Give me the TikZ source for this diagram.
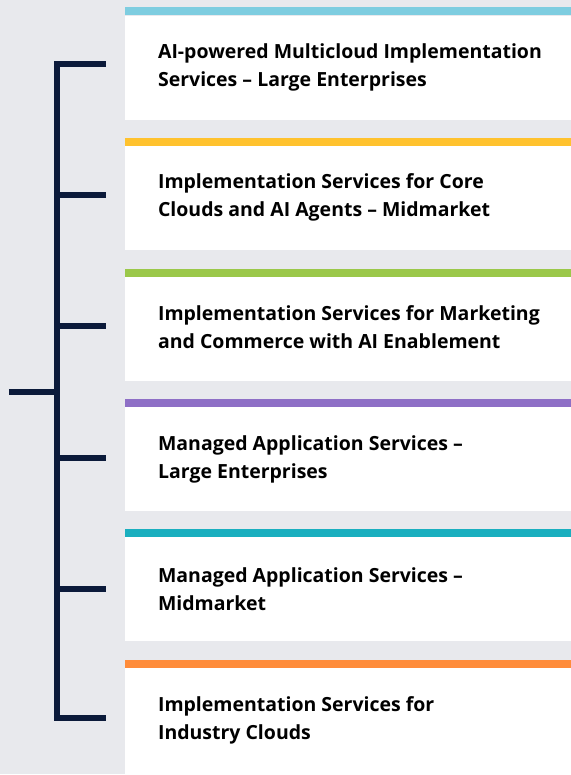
\documentclass[tikz,border=0pt]{standalone}
\usepackage{fontspec}
\setmainfont{Open Sans}
\usetikzlibrary{positioning}

\definecolor{pagegray}{HTML}{E8E9ED}
\definecolor{navy}{HTML}{0B1A3A}
\definecolor{barcyan}{HTML}{7ECDE0}
\definecolor{baryellow}{HTML}{FFC22E}
\definecolor{bargreen}{HTML}{9BC84A}
\definecolor{barpurple}{HTML}{8E6FC6}
\definecolor{barteal}{HTML}{1AAFBF}
\definecolor{barorange}{HTML}{FF8C3A}

\tikzset{
  colorbar/.style={fill=#1, draw=none, minimum width=446pt, minimum height=8pt,
    inner sep=0pt, anchor=north west},
  whitebox/.style={fill=white, draw=none, minimum width=446pt, minimum height=104pt,
    inner sep=0pt, below=0pt of #1},
  boxtext/.style={anchor=west, align=left, inner sep=0pt,
    font=\fontsize{19.5pt}{28.5pt}\selectfont\bfseries},
  bracket/.style={navy, line width=6pt}
}

\begin{document}
\begin{tikzpicture}[x=1pt, y=-1pt]
    % page background
    \fill [pagegray] (0,0) rectangle (571,775);

    % coloured bars on top of each box
    \node [colorbar=barcyan] (bar1) at (125,7) {};
    \node [colorbar=baryellow] (bar2) at (125,138) {};
    \node [colorbar=bargreen] (bar3) at (125,269) {};
    \node [colorbar=barpurple] (bar4) at (125,399) {};
    \node [colorbar=barteal] (bar5) at (125,529) {};
    \node [colorbar=barorange] (bar6) at (125,660) {};

    % white boxes below the bars
    \node [whitebox=bar1] (box1) {};
    \node [whitebox=bar2] (box2) {};
    \node [whitebox=bar3] (box3) {};
    \node [whitebox=bar4] (box4) {};
    \node [whitebox=bar5] (box5) {};
    \node [whitebox=bar6, minimum height=107pt] (box6) {};

    \node [boxtext, right=33pt of box1.west, anchor=west] (text1)
        {AI-powered Multicloud Implementation\\Services -- Large Enterprises};
    \node [boxtext, right=33pt of box2.west, anchor=west, yshift=1pt] (text2)
        {Implementation Services for Core\\Clouds and AI Agents -- Midmarket};
    \node [boxtext, right=33pt of box3.west, anchor=west, yshift=2pt] (text3)
        {Implementation Services for Marketing\\and Commerce with AI Enablement};
    \node [boxtext, right=33pt of box4.west, anchor=west] (text4)
        {Managed Application Services --\\Large Enterprises};
    \node [boxtext, right=33pt of box5.west, anchor=west] (text5)
        {Managed Application Services --\\Midmarket};
    \node [boxtext, right=33pt of box6.west, anchor=west, yshift=1pt] (text6)
        {Implementation Services for\\Industry Clouds};

    % the bracket
    \coordinate (tick1) at (106,64);
    \coordinate (tick2) at (106,195);
    \coordinate (tick3) at (106,326);
    \coordinate (tick4) at (106,458);
    \coordinate (tick5) at (106,589);
    \coordinate (tick6) at (106,719);
    \coordinate (stub) at (9,392);
    \coordinate (mid) at (57,392);

    \draw [bracket] (tick1) -- (57,64) -- (57,719) -- (tick6);
    \draw [bracket] (57,195) -- (tick2);
    \draw [bracket] (57,326) -- (tick3);
    \draw [bracket] (57,458) -- (tick4);
    \draw [bracket] (57,589) -- (tick5);
    \draw [bracket] (stub) -- (mid);
\end{tikzpicture}
\end{document}
